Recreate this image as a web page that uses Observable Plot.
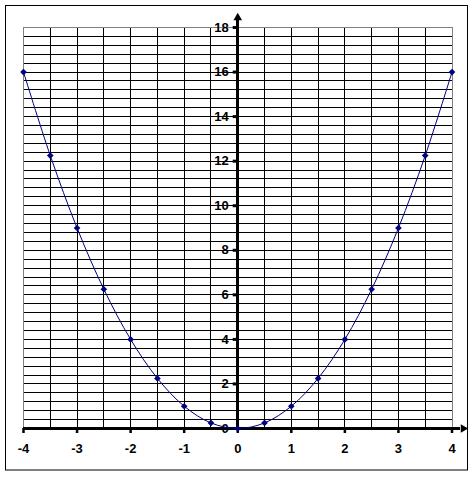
<!DOCTYPE html>
<html>
<head>
<meta charset="utf-8">
<script src="https://cdn.jsdelivr.net/npm/d3@7"></script>
<script src="https://cdn.jsdelivr.net/npm/@observablehq/plot@0.6"></script>
<style>
  html, body { margin: 0; padding: 0; background: white; }
</style>
</head>
<body>
<div id="chart"></div>
<script>
const xValues = [-4, -3.5, -3, -2.5, -2, -1.5, -1, -0.5, 0, 0.5, 1, 1.5, 2, 2.5, 3, 3.5, 4];
const yValues = [16, 12.25, 9, 6.25, 4, 2.25, 1, 0.25, 0, 0.25, 1, 2.25, 4, 6.25, 9, 12.25, 16];

// Tick labels
const xTickLabels = [-4, -3, -2, -1, 0, 1, 2, 3, 4];
const yTickLabels = [0, 2, 4, 6, 8, 10, 12, 14, 16, 18];

// Grid positions
const xGrid = d3.range(1, 16).map(i => -4 + i * 0.5);
const yGrid = d3.range(1, 45).map(i => +(i * 0.4).toFixed(1));

const points = xValues.map((x, i) => ({x, y: yValues[i]}));

const navy = "#000080";
const gray = "#808080";

const chart = Plot.plot({
  width: 476,
  height: 477,
  marginLeft: 23,
  marginRight: 24.5,
  marginTop: 27,
  marginBottom: 49,
  x: {domain: [-4, 4], axis: null},
  y: {domain: [0, 18], axis: null},
  style: {background: "white", fontFamily: "'Liberation Sans', Arial, sans-serif", fontSize: "13px", color: "black"},
  marks: [
    // gridlines
    Plot.ruleX(xGrid, {x: d => d, y1: 0, y2: 18, stroke: "black", strokeWidth: 1, shapeRendering: "crispEdges"}),
    Plot.ruleY(yGrid, {y: d => d, x1: -4, x2: 4, stroke: "black", strokeWidth: 1, shapeRendering: "crispEdges"}),
    // plot area border (gray)
    Plot.ruleX([-4, 4], {x: d => d, y1: 0, y2: 18, stroke: gray, strokeWidth: 1, shapeRendering: "crispEdges"}),
    Plot.ruleY([18], {y: d => d, x1: -4, x2: 4, stroke: gray, strokeWidth: 1, shapeRendering: "crispEdges"}),
    // axes
    Plot.ruleY([0], {y: d => d, x1: -4, x2: 4.15, stroke: "black", strokeWidth: 3, shapeRendering: "crispEdges"}),
    Plot.ruleX([0], {x: d => d, y1: 0, y2: 18.4, stroke: "black", strokeWidth: 3, shapeRendering: "crispEdges"}),
    // tick marks
    Plot.ruleX(xTickLabels, {x: d => d, y1: 0, y2: -0.224, stroke: "black", strokeWidth: 2.5}),
    Plot.ruleY(yTickLabels, {y: d => d, x1: -0.085, x2: 0, stroke: "black", strokeWidth: 3}),
    // arrow heads
    Plot.dot([{x: 0, y: 18.44}], {x: "x", y: "y", symbol: "triangle", r: 3.2, fill: "black", stroke: null}),
    Plot.dot([{x: 4.21, y: 0}], {x: "x", y: "y", symbol: "triangle", r: 3.2, fill: "black", stroke: null, rotate: 90}),
    // tick labels
    Plot.text(xTickLabels, {x: d => d, y: 0, text: d => String(d), dy: 20.5, textAnchor: "middle", lineAnchor: "middle", fontWeight: "bold", fontSize: 13, fill: "black"}),
    Plot.text(yTickLabels, {x: 0, y: d => d, text: d => String(d), dx: -9, textAnchor: "end", lineAnchor: "middle", fontWeight: "bold", fontSize: 13, fill: "black"}),
    // curve
    Plot.line(points, {x: "x", y: "y", curve: "catmull-rom", stroke: navy, strokeWidth: 1}),
    Plot.dot(points, {x: "x", y: "y", symbol: "diamond2", r: 3, fill: navy, stroke: null})
  ]
});

// outer chart border
d3.select(chart).append("rect")
  .attr("x", 5.5).attr("y", 5.5)
  .attr("width", 462).attr("height", 464.5)
  .attr("fill", "none").attr("stroke", "black").attr("stroke-width", 1);

document.getElementById("chart").appendChild(chart);
</script>
</body>
</html>
